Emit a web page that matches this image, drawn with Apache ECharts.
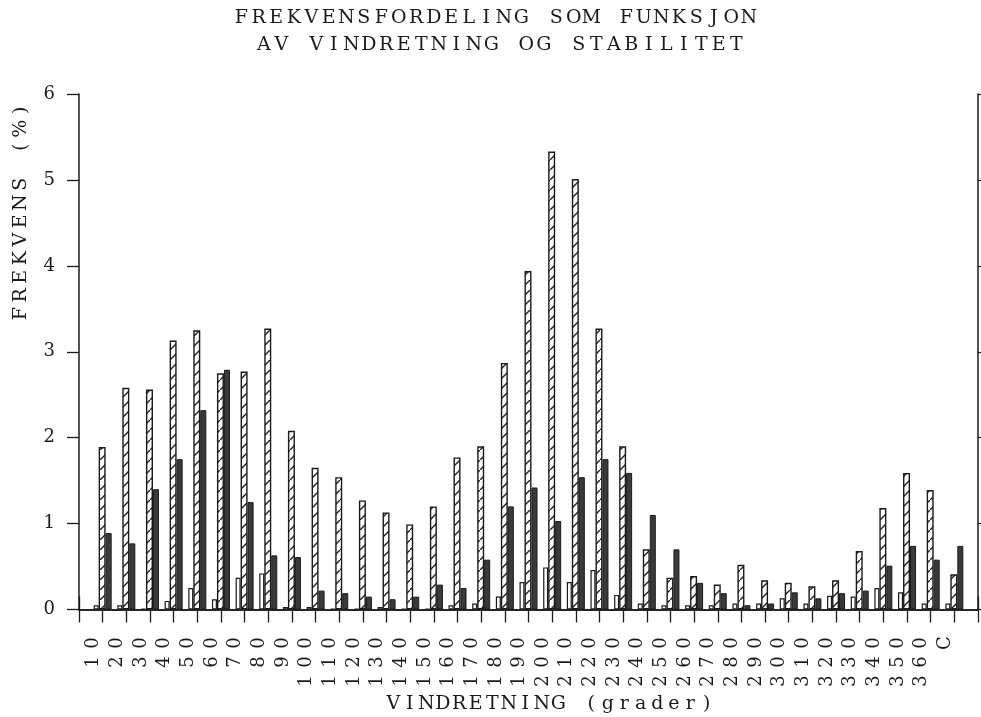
<!DOCTYPE html>
<html>
<head>
<meta charset="utf-8">
<title>Frekvensfordeling</title>
<script src="https://cdn.jsdelivr.net/npm/echarts@6/dist/echarts.min.js"></script>
<style>
  html, body { margin: 0; padding: 0; background: #fff; }
  #chart { width: 981px; height: 717px; }
</style>
</head>
<body>
<div id="chart"></div>
<script>
// Wind direction sectors (degrees) plus calm
const categories = ['10','20','30','40','50','60','70','80','90','100','110','120','130','140','150','160','170','180','190','200','210','220','230','240','250','260','270','280','290','300','310','320','330','340','350','360','C'];

// Frequency (%) per stability class
const openBars    = [0.05,0.05,0.01,0.10,0.25,0.12,0.37,0.42,0.03,0.03,0.01,0.01,0.03,0.01,0.01,0.05,0.07,0.15,0.32,0.49,0.32,0.46,0.17,0.07,0.05,0.05,0.05,0.07,0.07,0.13,0.07,0.16,0.15,0.25,0.20,0.07,0.07];
const hatchedBars = [1.89,2.58,2.56,3.13,3.25,2.75,2.77,3.27,2.08,1.65,1.54,1.27,1.13,0.99,1.20,1.77,1.90,2.87,3.94,5.33,5.01,3.27,1.90,0.70,0.37,0.39,0.29,0.52,0.34,0.31,0.27,0.34,0.68,1.18,1.59,1.39,0.41];
const darkBars    = [0.89,0.77,1.40,1.75,2.32,2.79,1.25,0.63,0.61,0.22,0.19,0.15,0.12,0.15,0.29,0.25,0.58,1.20,1.42,1.03,1.54,1.75,1.59,1.10,0.70,0.31,0.19,0.05,0.07,0.20,0.13,0.19,0.22,0.51,0.74,0.58,0.74];

// Frequency axis
const yMin = 0, yMax = 6, yStep = 1;

const FONT = 'DejaVu Serif';
const INK = '#1a1a1a';

// Each character gets a fixed-width cell, giving the wide plotter lettering
function spaced(s) {
  return s.split('').map(ch => '{c|' + ch + '}').join('');
}

// Diagonal hatch fill
function hatchPattern() {
  const c = document.createElement('canvas');
  c.width = 10; c.height = 10;
  const g = c.getContext('2d');
  g.fillStyle = '#fff';
  g.fillRect(0, 0, 10, 10);
  g.strokeStyle = '#222';
  g.lineWidth = 1.4;
  g.beginPath();
  g.moveTo(-2, 12); g.lineTo(12, -2);
  g.stroke();
  return c;
}

// Axis positions padded with an empty slot at each end
const axisCats = [''].concat(categories, ['']);
const pad = arr => [null].concat(arr, [null]);

const chart = echarts.init(document.getElementById('chart'), null, { renderer: 'canvas' });

const cell = (w, size) => ({ c: { width: w, align: 'center', fontSize: size, fontFamily: FONT, fill: INK, color: INK } });

const option = {
  backgroundColor: '#fff',
  animation: false,
  grid: { left: 79, right: 3, top: 94, bottom: 107.5, containLabel: false },
  xAxis: [
    {
      type: 'category',
      data: axisCats,
      boundaryGap: false,
      position: 'bottom',
      axisLine: { show: true, lineStyle: { color: INK, width: 1.5 } },
      axisTick: { show: true, interval: 0, length: 13, lineStyle: { color: INK, width: 1.3 } },
      axisLabel: {
        interval: 0,
        rotate: 90,
        margin: 24,
        verticalAlign: 'bottom',
        formatter: v => v ? spaced(v) : '',
        rich: cell(19, 18)
      },
      splitLine: { show: false }
    },
    {
      type: 'category',
      data: axisCats,
      boundaryGap: false,
      position: 'top',
      axisLine: { show: true, lineStyle: { color: INK, width: 1.5 } },
      axisTick: { show: true, interval: 0, length: 13, lineStyle: { color: INK, width: 1.3 } },
      axisLabel: { show: false },
      splitLine: { show: false }
    }
  ],
  yAxis: [
    {
      type: 'value',
      min: yMin, max: yMax, interval: yStep,
      position: 'left',
      axisLine: { show: true, lineStyle: { color: INK, width: 1.5 } },
      axisTick: { show: true, length: 12, lineStyle: { color: INK, width: 1.3 } },
      axisLabel: { margin: 24, fontSize: 18, fontFamily: FONT, color: INK },
      splitLine: { show: false }
    },
    {
      type: 'value',
      min: yMin, max: yMax, interval: yStep,
      position: 'right',
      axisLine: { show: true, lineStyle: { color: INK, width: 1.5 } },
      axisTick: { show: true, length: 3, lineStyle: { color: INK, width: 1.2 } },
      axisLabel: { show: false },
      splitLine: { show: false }
    }
  ],
  graphic: [
    {
      type: 'text', x: 495, y: 18,
      style: { text: spaced('FREKVENSFORDELING SOM FUNKSJON'), rich: cell(17.5, 19), align: 'center', verticalAlign: 'middle' }
    },
    {
      type: 'text', x: 500, y: 45,
      style: { text: spaced('AV VINDRETNING OG STABILITET'), rich: cell(17.5, 19), align: 'center', verticalAlign: 'middle' }
    },
    {
      type: 'text', x: 550, y: 704,
      style: { text: spaced('VINDRETNING (grader)'), rich: cell(16.5, 19), align: 'center', verticalAlign: 'middle' }
    },
    {
      type: 'text', x: 21, y: 212, rotation: Math.PI / 2,
      style: { text: spaced('FREKVENS (%)'), rich: cell(18.5, 19), align: 'center', verticalAlign: 'middle' }
    }
  ],
  series: [
    {
      type: 'bar', name: 'open',
      data: pad(openBars),
      barWidth: 5, barGap: '0%',
      itemStyle: { color: '#fff', borderColor: INK, borderWidth: 1.2 }
    },
    {
      type: 'bar', name: 'hatched',
      data: pad(hatchedBars),
      barWidth: 7, barGap: '0%',
      itemStyle: { color: { image: hatchPattern(), repeat: 'repeat' }, borderColor: INK, borderWidth: 1.4 }
    },
    {
      type: 'bar', name: 'dark',
      data: pad(darkBars),
      barWidth: 6, barGap: '0%',
      itemStyle: { color: '#3a3a3a', borderColor: INK, borderWidth: 1 }
    }
  ]
};

chart.setOption(option);
</script>
</body>
</html>
